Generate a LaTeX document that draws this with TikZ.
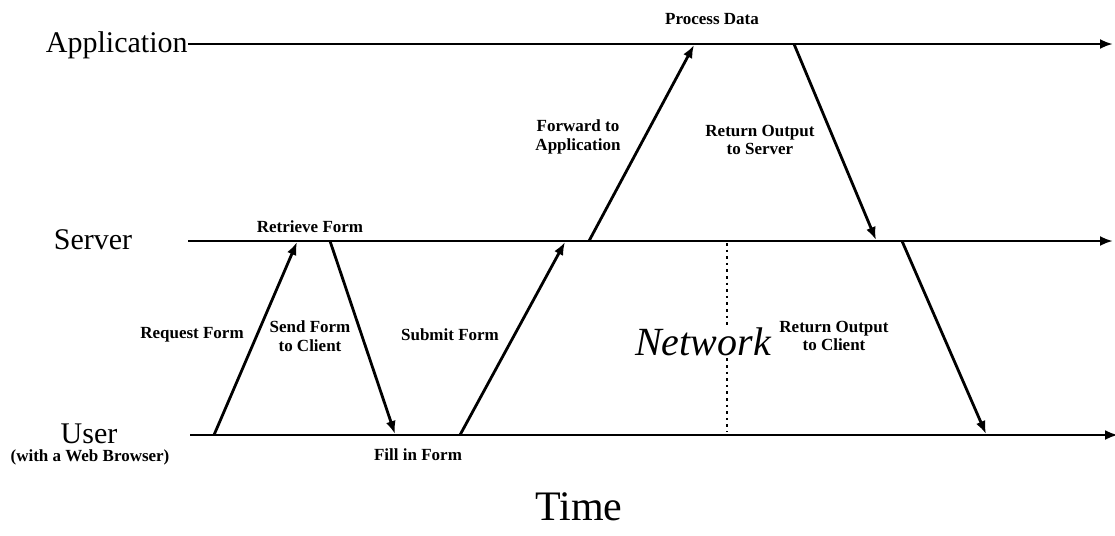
\documentclass[tikz,border=0pt]{standalone}
\usepackage{fontspec}
\setmainfont{Liberation Serif}
\usetikzlibrary{arrows.meta}

\begin{document}
\begin{tikzpicture}[x=0.5pt,y=-0.5pt,
  lane/.style={line width=1.4pt,-{Latex[length=6.5pt,width=5pt]}},
  msg/.style={line width=1.4pt,-{Latex[length=6.5pt,width=5pt]}},
  lbl/.style={font=\fontsize{8.5}{9.2}\selectfont\bfseries,align=center,inner sep=0pt},
  big/.style={font=\fontsize{15}{17}\selectfont,inner sep=0pt}]
  \useasboundingbox (0,0) rectangle (1115,536);

  % lanes
  \node[big,anchor=base east] (app) at (188,52) {Application};
  \node[big,anchor=base] (srv) at (93,249) {Server};
  \node[big,anchor=base] (usr) at (89,443) {User};
  \node[lbl] (usrsub) at (90,457) {(with a Web Browser)};

  \coordinate (a0) at (188,44);
  \coordinate (a1) at (1113,44);
  \coordinate (s0) at (188,241);
  \coordinate (s1) at (1113,241);
  \coordinate (u0) at (190,435);
  \coordinate (u1) at (1118,435);
  \draw[lane] (a0) -- (a1);
  \draw[lane] (s0) -- (s1);
  \draw[lane] (u0) -- (u1);

  % messages
  \coordinate (req0) at (214,435);
  \coordinate (req1) at (297,242);
  \coordinate (snd0) at (330,241);
  \coordinate (snd1) at (395,434);
  \coordinate (sub0) at (460,435);
  \coordinate (sub1) at (565,242);
  \coordinate (fwd0) at (589,241);
  \coordinate (fwd1) at (694,45);
  \coordinate (ros0) at (794,44);
  \coordinate (ros1) at (876,240);
  \coordinate (roc0) at (902,241);
  \coordinate (roc1) at (986,434);
  \draw[msg] (req0) -- (req1);
  \draw[msg] (snd0) -- (snd1);
  \draw[msg] (sub0) -- (sub1);
  \draw[msg] (fwd0) -- (fwd1);
  \draw[msg] (ros0) -- (ros1);
  \draw[msg] (roc0) -- (roc1);

  % labels
  \node[lbl] (proc) at (712,19) {Process Data};
  \node[lbl] (retr) at (310,227) {Retrieve Form};
  \node[lbl] (reqf) at (192,335) {Request Form};
  \node[lbl] (sndf) at (310,336) {Send Form\\to Client};
  \node[lbl] (subf) at (450,335) {Submit Form};
  \node[lbl] (fwdl) at (578,137) {Forward to\\Application};
  \node[lbl] (rosl) at (760,140) {Return Output\\to Server};
  \node[lbl] (rocl) at (834,336) {Return Output\\to Client};
  \node[lbl] (fill) at (418,455) {Fill in Form};

  \node[font=\fontsize{20}{22}\selectfont\itshape,inner sep=1pt] (net) at (703,342) {Network};
  \coordinate (n0) at (727,243);
  \coordinate (n1) at (727,432);
  \draw[line width=1.3pt,dotted] (n0) -- (net.north -| n0);
  \draw[line width=1.3pt,dotted] (net.south -| n1) -- (n1);

  \node[font=\fontsize{21}{23}\selectfont,inner sep=0pt,anchor=base] (time) at (579,520) {Time};
\end{tikzpicture}
\end{document}
